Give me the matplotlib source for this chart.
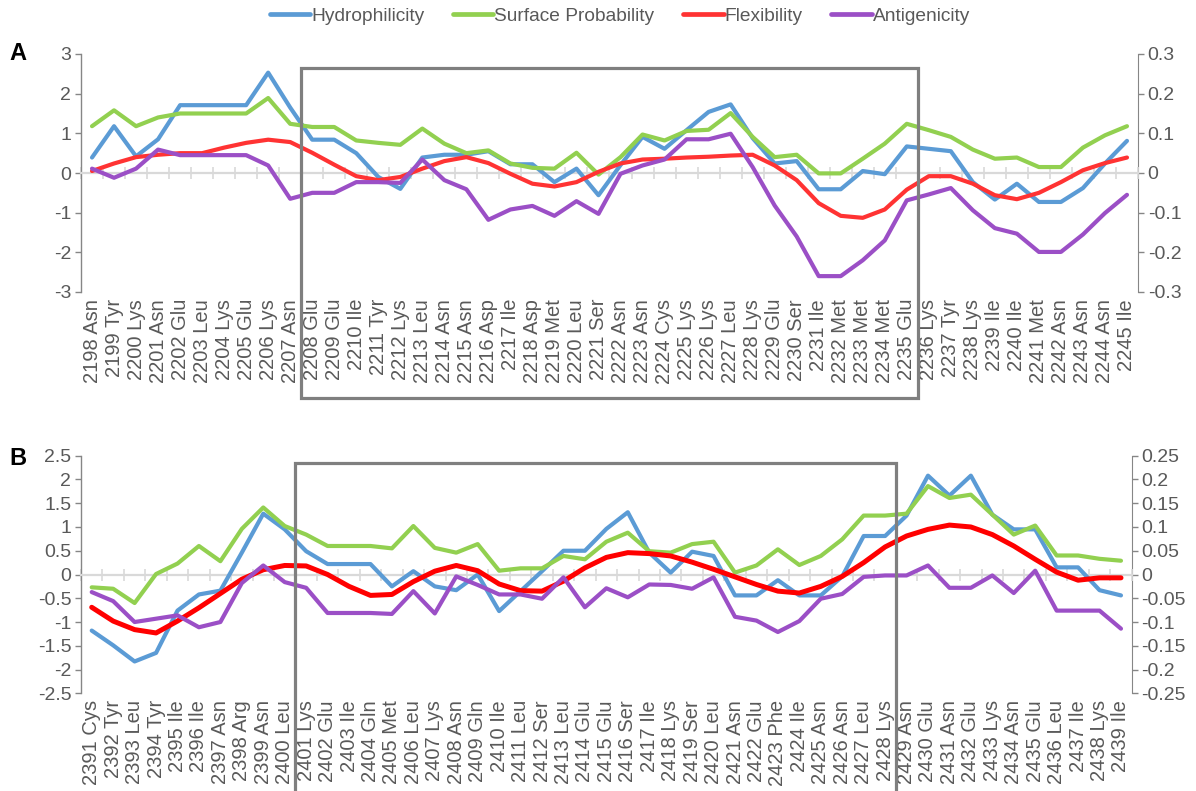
import matplotlib
matplotlib.use("Agg")
import matplotlib.pyplot as plt
import matplotlib.transforms as mtransforms
from matplotlib.patches import Rectangle
from matplotlib.lines import Line2D
import numpy as np

plt.rcParams['font.family'] = ['Liberation Sans', 'DejaVu Sans']
plt.rcParams['axes.unicode_minus'] = False

# residues for the two regions
start_a = 2198
res_a = ["Asn", "Tyr", "Lys", "Asn", "Glu", "Leu", "Lys", "Glu", "Lys", "Asn",
         "Glu", "Glu", "Ile", "Tyr", "Lys", "Leu", "Asn", "Asn", "Asp", "Ile",
         "Asp", "Met", "Leu", "Ser", "Asn", "Asn", "Cys", "Lys", "Lys", "Leu",
         "Lys", "Glu", "Ser", "Ile", "Met", "Met", "Met", "Glu", "Lys", "Tyr",
         "Lys", "Ile", "Ile", "Met", "Asn", "Asn", "Asn", "Ile"]
start_b = 2391
res_b = ["Cys", "Tyr", "Leu", "Tyr", "Ile", "Ile", "Asn", "Arg", "Asn", "Leu",
         "Lys", "Glu", "Ile", "Gln", "Met", "Leu", "Lys", "Asn", "Gln", "Ile",
         "Leu", "Ser", "Leu", "Glu", "Glu", "Ser", "Ile", "Lys", "Ser", "Leu",
         "Asn", "Glu", "Phe", "Ile", "Asn", "Asn", "Leu", "Lys", "Asn", "Glu",
         "Asn", "Glu", "Lys", "Asn", "Glu", "Leu", "Ile", "Lys", "Ile"]

# panel A
hyd_a = [0.39, 1.18, 0.42, 0.85, 1.71, 1.71, 1.71, 1.71, 2.53, 1.65,
         0.84, 0.84, 0.5, -0.1, -0.4, 0.39, 0.46, 0.46, 0.55, 0.22,
         0.22, -0.23, 0.11, -0.56, 0.2, 0.91, 0.61, 1.08, 1.54, 1.73,
         0.88, 0.24, 0.3, -0.41, -0.41, 0.05, -0.03, 0.67, 0.61, 0.55,
         -0.23, -0.67, -0.27, -0.73, -0.73, -0.38, 0.24, 0.81]
surf_a = [1.18, 1.58, 1.18, 1.4, 1.5, 1.5, 1.5, 1.5, 1.89, 1.24,
          1.16, 1.16, 0.82, 0.76, 0.71, 1.12, 0.74, 0.5, 0.57, 0.24,
          0.13, 0.11, 0.51, -0.04, 0.4, 0.97, 0.82, 1.06, 1.09, 1.51,
          0.91, 0.4, 0.46, -0.01, -0.01, 0.36, 0.74, 1.24, 1.08, 0.91,
          0.59, 0.36, 0.39, 0.15, 0.15, 0.64, 0.95, 1.18]
flex_a = [0.05, 0.24, 0.4, 0.46, 0.5, 0.5, 0.64, 0.76, 0.84, 0.78,
          0.51, 0.21, -0.08, -0.18, -0.1, 0.11, 0.3, 0.4, 0.25, -0.02,
          -0.27, -0.34, -0.23, 0.03, 0.24, 0.34, 0.36, 0.39, 0.41, 0.44,
          0.46, 0.19, -0.18, -0.76, -1.08, -1.13, -0.92, -0.42, -0.08, -0.08,
          -0.27, -0.56, -0.66, -0.5, -0.23, 0.07, 0.25, 0.39]
anti_a = [0.11, -0.12, 0.11, 0.59, 0.45, 0.45, 0.45, 0.45, 0.19, -0.65,
          -0.5, -0.5, -0.23, -0.23, -0.25, 0.34, -0.18, -0.41, -1.18, -0.92,
          -0.83, -1.08, -0.71, -1.03, -0.02, 0.19, 0.34, 0.85, 0.85, 0.99,
          0.15, -0.82, -1.6, -2.6, -2.6, -2.2, -1.7, -0.69, -0.54, -0.38,
          -0.94, -1.39, -1.53, -1.99, -1.99, -1.55, -1.01, -0.55]

# panel B
hyd_b = [-1.18, -1.49, -1.83, -1.65, -0.76, -0.42, -0.34, 0.46, 1.28, 0.95,
         0.49, 0.22, 0.22, 0.22, -0.25, 0.07, -0.25, -0.33, 0.0, -0.77,
         -0.35, 0.07, 0.5, 0.5, 0.96, 1.31, 0.46, 0.04, 0.48, 0.39,
         -0.44, -0.44, -0.12, -0.44, -0.44, -0.04, 0.81, 0.81, 1.24, 2.08,
         1.66, 2.08, 1.26, 0.95, 0.95, 0.15, 0.15, -0.33, -0.44]
surf_b = [-0.27, -0.3, -0.6, 0.01, 0.23, 0.6, 0.28, 0.96, 1.41, 1.02,
          0.84, 0.6, 0.6, 0.6, 0.55, 1.02, 0.56, 0.46, 0.64, 0.08,
          0.13, 0.13, 0.39, 0.32, 0.69, 0.88, 0.49, 0.46, 0.64, 0.69,
          0.04, 0.19, 0.53, 0.2, 0.39, 0.74, 1.24, 1.24, 1.28, 1.86,
          1.61, 1.68, 1.26, 0.84, 1.03, 0.4, 0.4, 0.33, 0.29]
flex_b = [-0.69, -0.98, -1.16, -1.23, -0.98, -0.7, -0.4, -0.1, 0.1, 0.19,
          0.18, 0.0, -0.25, -0.44, -0.42, -0.15, 0.07, 0.19, 0.08, -0.2,
          -0.34, -0.35, -0.14, 0.14, 0.36, 0.46, 0.44, 0.39, 0.26, 0.11,
          -0.05, -0.21, -0.35, -0.39, -0.25, -0.04, 0.25, 0.58, 0.81, 0.95,
          1.04, 1.0, 0.84, 0.6, 0.32, 0.05, -0.12, -0.07, -0.07]
anti_b = [-0.37, -0.56, -1.0, -0.93, -0.86, -1.11, -1.0, -0.18, 0.19, -0.16,
          -0.28, -0.81, -0.81, -0.81, -0.83, -0.35, -0.82, -0.04, -0.22, -0.42,
          -0.42, -0.51, -0.06, -0.69, -0.29, -0.48, -0.21, -0.22, -0.3, -0.06,
          -0.89, -0.97, -1.21, -0.98, -0.51, -0.41, -0.05, -0.02, -0.02, 0.19,
          -0.28, -0.28, -0.02, -0.39, 0.08, -0.76, -0.76, -0.76, -1.14]

names = ["Hydrophilicity", "Surface Probability", "Flexibility", "Antigenicity"]
colors = ["#5B9BD5", "#92D050", "#FF3333", "#9B4FC6"]
txt_gray = "#595959"
axis_gray = "#868686"

W, H = 1196, 791
fig = plt.figure(figsize=(W / 100, H / 100), dpi=100)


def px_axes(left, top, right, bottom):
    return fig.add_axes([left / W, 1 - bottom / H, (right - left) / W, (bottom - top) / H])


def panel(ax, start, res, series, ylim, step, lw, red_color, red_lw):
    n = len(res)
    x = np.arange(n)
    labels = [f"{start + i} {r}" for i, r in enumerate(res)]
    for k, (vals, c) in enumerate(zip(series, colors)):
        c_use = red_color if k == 2 else c
        w = red_lw if k == 2 else lw
        ax.plot(x, vals, color=c_use, lw=w, solid_joinstyle='round',
                solid_capstyle='round', zorder=3 + k)
    ax.set_xlim(-0.5, n - 0.5)
    ax.set_ylim(*ylim)
    yt = np.round(np.arange(ylim[0], ylim[1] + step / 2, step), 3)
    ax.set_yticks(yt, labels=[f"{v:g}" for v in yt])
    ax.tick_params(axis='y', direction='out', length=4, width=1,
                   color=axis_gray, labelcolor=txt_gray, labelsize=14, pad=3)
    for s in ("top", "right"):
        ax.spines[s].set_visible(False)
    ax.spines["left"].set_color(axis_gray)
    ax.spines["left"].set_linewidth(1)

    # zero line with category boundary ticks
    ax.spines["bottom"].set_position(("data", 0))
    ax.spines["bottom"].set_color("#D9D9D9")
    ax.spines["bottom"].set_linewidth(1.6)
    ax.set_xticks([])
    ax.set_xticks(np.arange(-0.5, n, 1.0), minor=True)
    ax.tick_params(axis='x', which='minor', direction='inout', length=9,
                   width=1.2, color="#D9D9D9")

    # category labels along the bottom edge
    sec = ax.secondary_xaxis(0.0)
    sec.set_xticks(x, labels=labels, rotation=90)
    sec.tick_params(axis='x', length=0, pad=5, labelcolor=txt_gray, labelsize=14.5)
    sec.spines["bottom"].set_visible(False)

    # right-hand scale
    sy = ax.secondary_yaxis('right', functions=(lambda v: v / 10, lambda v: v * 10))
    sy.set_yticks(yt / 10, labels=[f"{v / 10:g}" for v in yt])
    sy.tick_params(direction='out', length=4, width=1, color=axis_gray,
                   labelcolor=txt_gray, labelsize=14, pad=3)
    sy.spines["right"].set_color(axis_gray)
    return ax


ax_a = px_axes(81, 54, 1138, 292)
panel(ax_a, start_a, res_a, [hyd_a, surf_a, flex_a, anti_a], (-3, 3), 1,
      3.0, "#FF3333", 3.0)
ax_b = px_axes(81, 455.7, 1131.7, 693.3)
panel(ax_b, start_b, res_b, [hyd_b, surf_b, flex_b, anti_b], (-2.5, 2.5), 0.5,
      3.0, "#FF0000", 3.6)

# highlighted windows
for ax, top, bottom in ((ax_a, 67.7, 398), (ax_b, 462.7, 830)):
    tr = mtransforms.blended_transform_factory(ax.transData, fig.transFigure)
    y0 = 1 - bottom / H
    ax.add_patch(Rectangle((9.5, y0), 28, (bottom - top) / H, transform=tr,
                           fill=False, edgecolor="#7F7F7F", lw=2.3,
                           clip_on=False, zorder=10))

fig.text(18 / W, 1 - 53 / H, "A", fontsize=17, fontweight='bold',
         ha='center', va='center', family='Liberation Sans')
fig.text(18 / W, 1 - 458 / H, "B", fontsize=17, fontweight='bold',
         ha='center', va='center', family='Liberation Sans')

handles = [Line2D([], [], color=c, lw=3.4, solid_capstyle='round') for c in colors]
fig.legend(handles, names, loc='center', bbox_to_anchor=(620 / W, 1 - 16 / H),
           ncol=4, frameon=False, fontsize=13.8, handlelength=2.1,
           handletextpad=0.05, columnspacing=1.5, labelcolor=txt_gray)

fig.savefig("out.png", dpi=100)
